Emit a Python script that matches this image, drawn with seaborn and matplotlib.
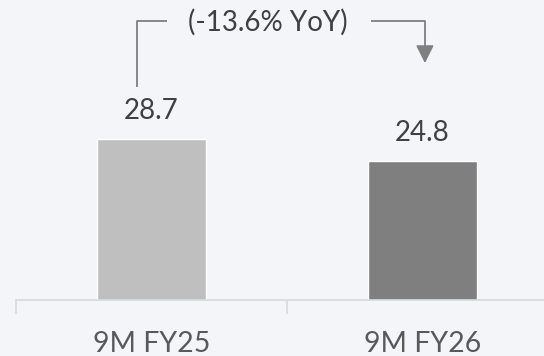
import matplotlib
matplotlib.use("Agg")
import matplotlib.pyplot as plt
import seaborn as sns
import pandas as pd

periods = ["9M FY25", "9M FY26"]
values = [28.7, 24.8]
bar_colors = ["#BFBFBF", "#7F7F7F"]
change_label = "(-13.6% YoY)"

bg = "#F4F5F9"
sns.set_theme(style="white")
plt.rcParams["font.family"] = ["Lato", "DejaVu Sans"]

fig = plt.figure(figsize=(5.44, 3.56), dpi=100, facecolor=bg)
ax = fig.add_axes([16 / 544, 56 / 356, 542 / 544, 300 / 356])
ax.set_facecolor(bg)

df = pd.DataFrame({"period": periods, "value": values})
sns.barplot(data=df, x="period", y="value", hue="period", palette=bar_colors,
            width=0.4, legend=False, saturation=1, ax=ax)

ax.set_xlim(-0.5, 1.5)
ax.set_ylim(0, 53.45)
ax.set_xlabel("")
ax.set_ylabel("")
ax.set_yticks([])

for s in ["top", "right", "left"]:
    ax.spines[s].set_visible(False)
ax.spines["bottom"].set_color("#D9D9D9")
ax.spines["bottom"].set_linewidth(1.2)

ax.set_xticks([0, 1])
ax.set_xticklabels(periods, fontsize=20.5, color="#595959")
ax.tick_params(axis="x", which="major", bottom=False, length=0, pad=22)
ax.set_xticks([-0.5, 0.5, 1.5], minor=True)
ax.tick_params(axis="x", which="minor", bottom=True, direction="out",
               length=10, width=1.2, color="#D9D9D9")

# value labels above the bars
for i, v in enumerate(values):
    ax.text(i, v + 3.56, f"{v:.1f}", ha="center", va="baseline",
            fontsize=20, color="#404040")

# year-over-year bracket with arrow
line_kw = dict(color="#7F7F7F", lw=1.3, solid_capstyle="butt")
ax.plot([-0.054, -0.054, 0.057], [38.0, 49.7, 49.7], **line_kw)
ax.plot([0.81, 1.009, 1.009], [49.7, 49.7, 44.9], **line_kw)
ax.annotate("", xy=(1.009, 42.2), xytext=(1.009, 45.1),
            arrowprops=dict(arrowstyle="-|>,head_length=0.9,head_width=0.45",
                            color="#7F7F7F", lw=1.3, shrinkA=0, shrinkB=0))
ax.text(0.43, 49.4, change_label, ha="center", va="center",
        fontsize=20, color="#404040")

fig.savefig("out.png", dpi=100, facecolor=bg)
